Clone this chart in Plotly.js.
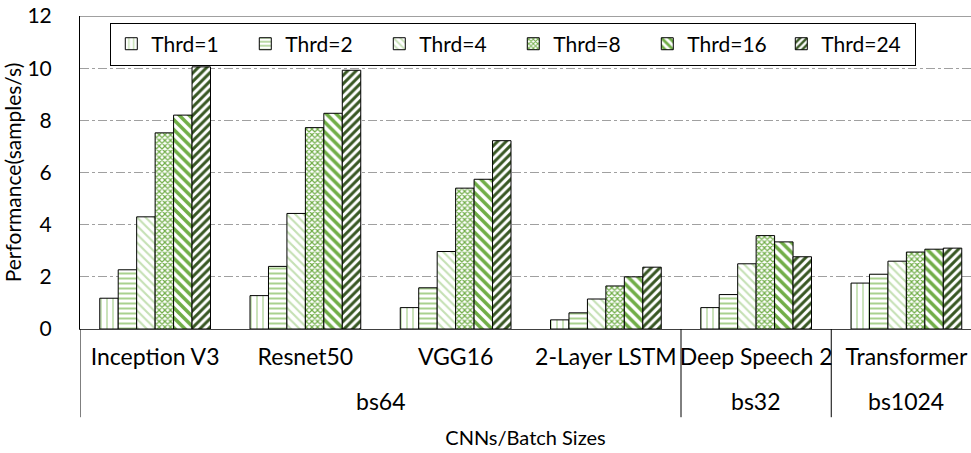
<!DOCTYPE html>
<html>
<head>
<meta charset="utf-8">
<script src="https://cdn.plot.ly/plotly-3.0.1.min.js"></script>
<style>html,body{margin:0;padding:0;background:#fff;}#chart{width:971px;height:453px;}</style>
</head>
<body>
<div id="chart"></div>
<script>
// Data
const models = ["Inception V3", "Resnet50", "VGG16", "2-Layer LSTM", "Deep Speech 2", "Transformer"];
const batchSizes = ["bs64", "bs64", "bs64", "bs64", "bs32", "bs1024"];
const seriesNames = ["Thrd=1", "Thrd=2", "Thrd=4", "Thrd=8", "Thrd=16", "Thrd=24"];
const thrd1  = [1.18, 1.28, 0.82, 0.35, 0.82, 1.76];
const thrd2  = [2.27, 2.40, 1.58, 0.62, 1.32, 2.10];
const thrd4  = [4.30, 4.43, 2.97, 1.15, 2.50, 2.60];
const thrd8  = [7.52, 7.72, 5.40, 1.65, 3.58, 2.95];
const thrd16 = [8.20, 8.27, 5.74, 2.00, 3.34, 3.06];
const thrd24 = [10.05, 9.92, 7.22, 2.37, 2.77, 3.10];
const yTicks = [0, 2, 4, 6, 8, 10, 12];

const values = [thrd1, thrd2, thrd4, thrd8, thrd16, thrd24];
const styles = [
  {shape: "|",  fg: "#c5e0b4", size: 6, sol: 0.3},
  {shape: "-",  fg: "#a9d18e", size: 5, sol: 0.4},
  {shape: "\\", fg: "#c5e0b4", size: 6, sol: 0.35},
  {shape: "x",  fg: "#70ad47", size: 4, sol: 0.5},
  {shape: "\\", fg: "#70ad47", size: 7, sol: 0.5},
  {shape: "/",  fg: "#385723", size: 6, sol: 0.5}
];
const FONT = "Lato, 'Open Sans', sans-serif";

const traces = values.map((v, i) => ({
  type: "bar",
  name: seriesNames[i],
  x: models,
  y: v,
  marker: {
    color: "#ffffff",
    line: {color: "#000000", width: 1},
    pattern: {shape: styles[i].shape, fgcolor: styles[i].fg, bgcolor: "#ffffff",
              size: styles[i].size, solidity: styles[i].sol, fillmode: "replace"}
  },
  hoverinfo: "y"
}));

// Outer-level (batch size) groups computed from the data arrays
const groups = [];
batchSizes.forEach((b, i) => {
  const last = groups[groups.length - 1];
  if (last && last.name === b) last.end = i; else groups.push({name: b, start: i, end: i});
});
const plotH = 453 - 15.5 - 123.5;
const pxToPaper = px => -px / plotH; // px below the x axis line
const annotations = groups.map(g => ({
  xref: "x", yref: "paper", x: (g.start + g.end) / 2, y: pxToPaper(72.5),
  text: g.name, showarrow: false, xanchor: "center", yanchor: "middle",
  font: {family: FONT, size: 23, color: "#000000"}
}));
const dividerPos = groups.map(g => g.start - 0.5);
const shapes = dividerPos.map(x => ({
  type: "line", xref: "x", yref: "paper", x0: x, x1: x, y0: 0, y1: pxToPaper(88.5),
  line: {color: "#000000", width: 1}
}));
shapes.push({type: "line", xref: "paper", yref: "y", x0: 0, x1: 1, y0: 12, y1: 12,
  line: {color: "#808080", width: 1.5}, layer: "below"});

const layout = {
  width: 971, height: 453,
  margin: {l: 80, r: 0, t: 15.5, b: 123.5, pad: 0},
  paper_bgcolor: "#ffffff", plot_bgcolor: "#ffffff",
  font: {family: FONT, size: 21, color: "#000000"},
  barmode: "group",
  bargap: 0.263,
  bargroupgap: 0,
  showlegend: true,
  legend: {
    orientation: "h", x: 0.034, y: 0.979, xanchor: "left", yanchor: "top",
    bordercolor: "#000000", borderwidth: 1, bgcolor: "#ffffff",
    font: {family: FONT, size: 21, color: "#000000"},
    entrywidth: 89, entrywidthmode: "pixels", traceorder: "normal"
  },
  xaxis: {
    type: "category",
    range: [-0.5, 5.43],
    showline: true, linecolor: "#404040", linewidth: 1,
    showgrid: false, zeroline: false,
    ticks: "",
    ticklabelstandoff: 7,
    tickfont: {family: FONT, size: 23, color: "#000000"},
    title: {text: "CNNs/Batch Sizes", font: {family: FONT, size: 20, color: "#000000"}, standoff: 62}
  },
  yaxis: {
    range: [0, 12],
    tickvals: yTicks,
    ticktext: yTicks.map(String),
    showline: true, linecolor: "#000000", linewidth: 1,
    showgrid: true, gridcolor: "#a0a0a0", gridwidth: 1, griddash: "dashdot",
    zeroline: false,
    ticks: "",
    ticklabelstandoff: 23,
    tickfont: {family: FONT, size: 21, color: "#000000"},
    title: {text: "Performance(samples/s)", font: {family: FONT, size: 21, color: "#000000"}, standoff: 10}
  },
  annotations: annotations,
  shapes: shapes
};

Plotly.newPlot("chart", traces, layout, {staticPlot: true, displayModeBar: false});
</script>
</body>
</html>
